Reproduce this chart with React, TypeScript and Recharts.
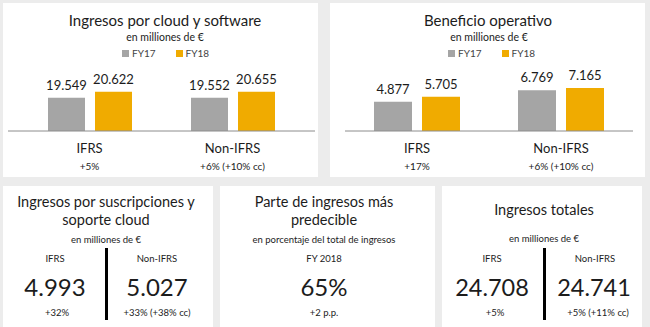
import React from 'react';
import { BarChart, Bar, XAxis, YAxis, Legend, LabelList } from 'recharts';

const categories = ['IFRS', 'Non-IFRS'];
const cloudFY17 = [19549, 19552];
const cloudFY18 = [20622, 20655];
const cloudChange = ['+5%', '+6% (+10% cc)'];
const opFY17 = [4877, 6769];
const opFY18 = [5705, 7165];
const opChange = ['+17%', '+6% (+10% cc)'];

const subsValues = ['4.993', '5.027'];
const subsChange = ['+32%', '+33% (+38% cc)'];
const totalValues = ['24.708', '24.741'];
const totalChange = ['+5%', '+5% (+11% cc)'];
const predictableValue = '65%';
const predictableChange = '+2 p.p.';

const GRAY = '#a5a5a5';
const GOLD = '#f0ab00';
const INK = '#1c1c1c';
const FONT = 'Lato, "Open Sans", sans-serif';

const fmt = (v: number) => String(v).replace(/\B(?=(\d{3})+(?!\d))/g, '.');

function T({ x, y, size, children, color = INK, k = 0.6 }: any) {
  return (
    <div style={{ position: 'absolute', left: x - 200, width: 400, top: y - size * k, textAlign: 'center', fontSize: size, lineHeight: `${size}px`, color, whiteSpace: 'nowrap' }}>
      {children}
    </div>
  );
}

function Panel({ x, y, w, h }: any) {
  return <div style={{ position: 'absolute', left: x, top: y, width: w, height: h, background: '#fff' }} />;
}

function LegendBox() {
  const item = (c: string, t: string, mr: number) => (
    <span style={{ display: 'inline-flex', alignItems: 'center', marginRight: mr }}>
      <span style={{ width: 7, height: 7, background: c, marginRight: 3 }} />
      <span style={{ fontSize: 10, color: '#444' }}>{t}</span>
    </span>
  );
  return (
    <div style={{ height: 14, display: 'flex', justifyContent: 'center', alignItems: 'center', fontFamily: FONT }}>
      {item(GRAY, 'FY17', 20)}
      {item(GOLD, 'FY18', 0)}
    </div>
  );
}

function makeTick(changes: string[]) {
  return (props: any) => {
    const { x, y, payload } = props;
    const i = categories.indexOf(payload.value);
    return (
      <g>
        <text x={x} y={y + 17} textAnchor="middle" dominantBaseline="central" fontSize={13} fill={INK} fontFamily={FONT}>{payload.value}</text>
        <text x={x} y={y + 35} textAnchor="middle" dominantBaseline="central" fontSize={10} fill={INK} fontFamily={FONT}>{changes[i]}</text>
      </g>
    );
  };
}

function TopChart({ a, b, changes, domain, margin, padding, barSize, legendWidth }: any) {
  const data = categories.map((c, i) => ({ name: c, fy17: a[i], fy18: b[i] }));
  return (
    <BarChart width={315} height={174} data={data} margin={margin} barGap={10} barSize={barSize}>
      <Legend verticalAlign="top" content={() => <LegendBox />} wrapperStyle={{ top: 43, left: 0, width: legendWidth }} />
      <XAxis dataKey="name" height={46} padding={padding} tickLine={false} tickSize={0} tickMargin={0} axisLine={{ stroke: '#8c8c8c' }} tick={makeTick(changes)} interval={0} />
      <YAxis hide domain={domain} allowDataOverflow />
      <Bar dataKey="fy17" name="FY17" fill={GRAY} isAnimationActive={false}>
        <LabelList dataKey="fy17" position="top" offset={8} formatter={(v: any) => fmt(v)} fontSize={13} fill={INK} fontFamily={FONT} />
      </Bar>
      <Bar dataKey="fy18" name="FY18" fill={GOLD} isAnimationActive={false}>
        <LabelList dataKey="fy18" position="top" offset={8} formatter={(v: any) => fmt(v)} fontSize={13} fill={INK} fontFamily={FONT} />
      </Bar>
    </BarChart>
  );
}

export default function App() {
  return (
    <div style={{ position: 'absolute', left: 0, top: 0, width: 650, height: 327, background: '#ececec', fontFamily: FONT, overflow: 'hidden' }}>
      <Panel x={3} y={3} w={315} h={174} />
      <Panel x={330} y={3} w={315} h={174} />
      <Panel x={3} y={186} w={210} h={141} />
      <Panel x={220} y={186} w={215} h={141} />
      <Panel x={442} y={186} w={200} h={141} />

      <div style={{ position: 'absolute', left: 3, top: 3 }}>
        <TopChart a={cloudFY17} b={cloudFY18} changes={cloudChange} domain={[13600, 25800]}
          margin={{ top: 46, right: 3, bottom: 0, left: 5 }} padding={{ left: 10, right: 11 }} barSize={37} legendWidth={325} />
      </div>
      <div style={{ position: 'absolute', left: 330, top: 3 }}>
        <TopChart a={opFY17} b={opFY18} changes={opChange} domain={[0, 11300]}
          margin={{ top: 46, right: 12, bottom: 0, left: 15 }} padding={{ left: 0, right: 0 }} barSize={38} legendWidth={323} />
      </div>

      <T x={165} y={22} size={15}>Ingresos por cloud y software</T>
      <T x={165} y={38} size={10.5}>en milliones de €</T>
      <T x={488} y={22} size={15}>Beneficio operativo</T>
      <T x={489} y={38} size={10.5}>en milliones de €</T>

      {/* suscripciones y soporte cloud */}
      <T x={106} y={204} size={14.5}>Ingresos por suscripciones y</T>
      <T x={106} y={222} size={14.5}>soporte cloud</T>
      <T x={106} y={241} size={9.5}>en milliones de €</T>
      <T x={55} y={260} size={9.5}>IFRS</T>
      <T x={157} y={260} size={9.5}>Non-IFRS</T>
      <T x={55} y={288} size={24} k={0.53}>{subsValues[0]}</T>
      <T x={157} y={288} size={24} k={0.53}>{subsValues[1]}</T>
      <T x={57} y={314} size={9.5}>{subsChange[0]}</T>
      <T x={157} y={314} size={9.5}>{subsChange[1]}</T>
      <div style={{ position: 'absolute', left: 105, top: 248, width: 3, height: 72, background: '#000' }} />

      {/* parte predecible */}
      <T x={324} y={204} size={14.5}>Parte de ingresos más</T>
      <T x={324} y={222} size={14.5}>predecible</T>
      <T x={324} y={241} size={9.5}>en porcentaje del total de ingresos</T>
      <T x={324} y={260} size={9.5}>FY 2018</T>
      <T x={324} y={288} size={24} k={0.53}>{predictableValue}</T>
      <T x={324} y={314} size={9.5}>{predictableChange}</T>

      {/* ingresos totales */}
      <T x={544} y={212} size={14.5}>Ingresos totales</T>
      <T x={544} y={240} size={9.5}>en milliones de €</T>
      <T x={492} y={260} size={9.5}>IFRS</T>
      <T x={595} y={260} size={9.5}>Non-IFRS</T>
      <T x={492} y={288} size={23.5} k={0.53}>{totalValues[0]}</T>
      <T x={594} y={288} size={23.5} k={0.53}>{totalValues[1]}</T>
      <T x={495} y={314} size={9.5}>{totalChange[0]}</T>
      <T x={598} y={314} size={9.5}>{totalChange[1]}</T>
      <div style={{ position: 'absolute', left: 543, top: 248, width: 3, height: 72, background: '#000' }} />
    </div>
  );
}
